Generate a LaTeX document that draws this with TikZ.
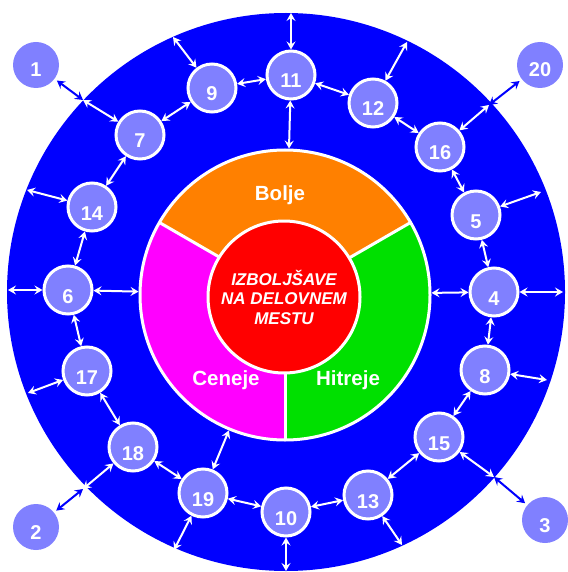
\documentclass[tikz,border=0pt]{standalone}
\usepackage{fontspec}
\setmainfont{Liberation Sans}
\usetikzlibrary{arrows.meta}
\definecolor{discblue}{RGB}{0,0,255}
\definecolor{numfill}{RGB}{128,128,255}
\definecolor{segorange}{RGB}{255,128,0}
\definecolor{seggreen}{RGB}{0,224,0}
\definecolor{segmag}{RGB}{255,0,255}
\definecolor{corered}{RGB}{255,0,0}
\begin{document}
\begin{tikzpicture}[x=1pt,y=-1pt,
  numc/.style={circle, fill=numfill, draw=white, line width=3pt, minimum size=48pt,
    inner sep=0pt, outer sep=1.5pt, text=white,
    font=\fontsize{20}{20}\selectfont\bfseries, text height=26pt, text depth=0pt},
  outc/.style={circle, fill=numfill, minimum size=46pt, inner sep=0pt, outer sep=3pt,
    text=white, font=\fontsize{20}{20}\selectfont\bfseries, text height=24pt, text depth=0pt},
  link/.style={draw=white, line width=2pt,
    {Stealth[length=8pt,width=9pt,inset=3pt]}-{Stealth[length=8pt,width=9pt,inset=3pt]}},
  outlink/.style={link, draw=discblue},
  seglabel/.style={text=white, anchor=base, font=\fontsize{20.5}{20.5}\selectfont\bfseries},
  sep/.style={draw=white, line width=3pt}
]
\useasboundingbox (0,0) rectangle (567,572);
% blue disc
\fill[discblue] (286,292) circle[radius=279];
% ring sectors
\fill[segorange] (285,295) -- ++(-30:145) arc[start angle=-30, end angle=-150, radius=145] -- cycle;
\fill[seggreen] (285,295) -- ++(90:145) arc[start angle=90, end angle=-30, radius=145] -- cycle;
\fill[segmag] (285,295) -- ++(-150:145) arc[start angle=-150, end angle=-270, radius=145] -- cycle;
\draw[sep] (285,295) -- ++(-30:145);
\draw[sep] (285,295) -- ++(-150:145);
\draw[sep] (285,295) -- ++(90:145);
\node[circle, draw=white, line width=3pt, minimum size=290pt, inner sep=0pt, outer sep=1.5pt] (ring) at (285,295) {};
\node[circle, fill=corered, draw=white, line width=3pt, minimum size=152pt, inner sep=0pt,
  text=white, align=center, font=\fontsize{17}{19.5}\selectfont\bfseries\itshape] (core) at (284,297)
  {IZBOLJŠAVE\\NA DELOVNEM\\MESTU};
\node[seglabel] (bolje) at (280,200.5) {Bolje};
\node[seglabel] (ceneje) at (226,385) {Ceneje};
\node[seglabel] (hitreje) at (348,385) {Hitreje};
% numbered circles
\node[numc] (c11) at (291,75) {11};
\node[numc] (c9) at (212,88) {9};
\node[numc] (c12) at (373,103) {12};
\node[numc] (c7) at (140,135) {7};
\node[numc] (c16) at (440,147) {16};
\node[numc] (c14) at (92,207) {14};
\node[numc] (c5) at (476,215) {5};
\node[numc] (c6) at (68,290) {6};
\node[numc] (c4) at (494,292) {4};
\node[numc] (c17) at (87,371) {17};
\node[numc] (c8) at (485,370) {8};
\node[numc] (c18) at (133,447) {18};
\node[numc] (c15) at (439,437) {15};
\node[numc] (c19) at (203,493) {19};
\node[numc] (c13) at (368,495) {13};
\node[numc] (c10) at (286,512) {10};
% outer circles
\node[outc] (o1) at (36,65) {1};
\node[outc] (o20) at (540,65) {20};
\node[outc] (o2) at (36,527) {2};
\node[outc] (o3) at (545,520) {3};
% edge points
\coordinate (e11) at (291,13);
\coordinate (e9) at (173,37);
\coordinate (e12) at (407,42);
\coordinate (k1) at (83,100);
\coordinate (k20) at (489,105);
\coordinate (e14) at (27,190);
\coordinate (e5) at (541,192);
\coordinate (e6) at (8,290);
\coordinate (e4) at (563,292);
\coordinate (e17) at (28,393);
\coordinate (e8) at (547,380);
\coordinate (k2) at (83,489);
\coordinate (k3) at (494,477);
\coordinate (e19) at (174,550);
\coordinate (e13) at (402,545);
\coordinate (e10) at (286,571);
% white links
\draw[link] (c11) -- (e11);
\draw[link] (c11) -- (ring);
\draw[link] (c11) -- (c9);
\draw[link] (c11) -- (c12);
\draw[link] (c9) -- (e9);
\draw[link] (c9) -- (c7);
\draw[link] (c12) -- (e12);
\draw[link] (c12) -- (c16);
\draw[link] (c7) -- (k1);
\draw[link] (c7) -- (c14);
\draw[link] (c16) -- (k20);
\draw[link] (c16) -- (c5);
\draw[link] (c14) -- (e14);
\draw[link] (c14) -- (c6);
\draw[link] (c5) -- (e5);
\draw[link] (c5) -- (c4);
\draw[link] (c6) -- (e6);
\draw[link] (c6) -- (ring);
\draw[link] (c4) -- (e4);
\draw[link] (c4) -- (ring);
\draw[link] (c6) -- (c17);
\draw[link] (c4) -- (c8);
\draw[link] (c17) -- (e17);
\draw[link] (c8) -- (e8);
\draw[link] (c17) -- (c18);
\draw[link] (c8) -- (c15);
\draw[link] (c18) -- (k2);
\draw[link] (c15) -- (k3);
\draw[link] (c18) -- (c19);
\draw[link] (c15) -- (c13);
\draw[link] (c19) -- (e19);
\draw[link] (c19) -- (ring);
\draw[link] (c13) -- (e13);
\draw[link] (c19) -- (c10);
\draw[link] (c10) -- (c13);
\draw[link] (c10) -- (e10);
% blue links to outer circles
\draw[outlink] (k1) -- (o1);
\draw[outlink] (k20) -- (o20);
\draw[outlink] (k2) -- (o2);
\draw[outlink] (k3) -- (o3);
\end{tikzpicture}
\end{document}
